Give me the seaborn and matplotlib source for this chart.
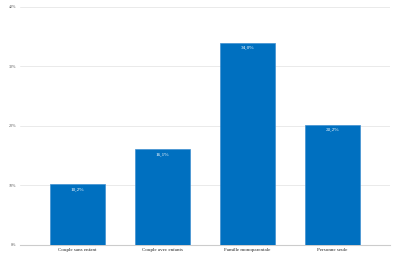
import matplotlib
matplotlib.use("Agg")
import matplotlib.pyplot as plt
import seaborn as sns
import pandas as pd

categories = ["Couple sans enfant", "Couple avec enfants", "Famille monoparentale", "Personne seule"]
values = [10.2, 16.1, 34.0, 20.2]
value_labels = ["10,2%", "16,1%", "34,0%", "20,2%"]
yticks = [0, 10, 20, 30, 40]
ytick_labels = ["0%", "10%", "20%", "30%", "40%"]

sns.set_theme(style="white")
plt.rcParams['font.family'] = ['Liberation Serif', 'DejaVu Serif']

df = pd.DataFrame({"cat": categories, "val": values})
fig = plt.figure(figsize=(4, 2.56), dpi=100)
ax = fig.add_axes([0.05, 0.043, 0.925, 0.93])
sns.barplot(data=df, x="cat", y="val", color="#0070C0", saturation=1, width=0.65,
            edgecolor="#3f8fd0", linewidth=0.5, ax=ax, zorder=3)
ax.set_ylim(0, 40)
ax.set_xlim(-0.68, 3.68)
ax.set_yticks(yticks)
ax.set_yticklabels(ytick_labels, fontsize=3, color="#555555")
ax.tick_params(axis='y', length=0, pad=3)
ax.tick_params(axis='x', length=0, pad=2, labelsize=3.6, colors="#222222")
ax.grid(axis='y', color="#e6e6e6", linewidth=0.6, zorder=0)
for s in ["top", "right", "left"]:
    ax.spines[s].set_visible(False)
ax.spines["bottom"].set_color("#cccccc")
ax.spines["bottom"].set_linewidth(0.8)
ax.set_xlabel("")
ax.set_ylabel("")
for i, (v, lab) in enumerate(zip(values, value_labels)):
    ax.text(i, v - 0.6, lab, ha="center", va="top", color="white", fontsize=3.8)
fig.savefig("out.png", dpi=100)
